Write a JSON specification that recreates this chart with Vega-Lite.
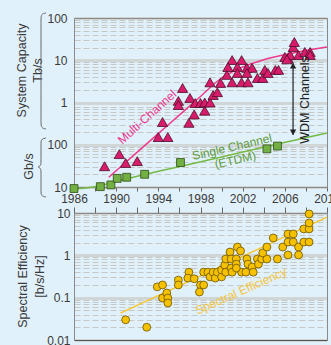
{
  "$schema": "https://vega.github.io/schema/vega-lite/v6.json",
  "width": 253,
  "height": 322,
  "autosize": {"type": "none"},
  "padding": {"left": 74, "top": 18, "right": 4, "bottom": 5},
  "background": "#e1f1fb",
  "config": {
    "view": {"stroke": null},
    "font": "Liberation Sans",
    "axis": {
      "labelFont": "Liberation Sans",
      "titleFont": "Liberation Sans",
      "labelColor": "#3a3a3a",
      "titleColor": "#3a3a3a",
      "titleFontWeight": "normal",
      "labelFontSize": 12,
      "titleFontSize": 12.5,
      "domainColor": "#8a8a8a",
      "tickColor": "#666666"
    }
  },
  "datasets": {
    "multi": [
      {"year": 1988.9, "value": 0.031}, {"year": 1990.3, "value": 0.06}, {"year": 1990.9, "value": 0.037}, {"year": 1992.0, "value": 0.041},
      {"year": 1994.0, "value": 0.152}, {"year": 1994.4, "value": 0.345}, {"year": 1994.9, "value": 0.152},
      {"year": 1995.9, "value": 1.09}, {"year": 1995.9, "value": 0.87}, {"year": 1996.3, "value": 2.2}, {"year": 1997.0, "value": 1.28},
      {"year": 1997.5, "value": 0.97}, {"year": 1996.9, "value": 0.33}, {"year": 1997.4, "value": 0.52}, {"year": 1998.0, "value": 0.97},
      {"year": 1998.4, "value": 0.64}, {"year": 1998.4, "value": 1.0}, {"year": 1998.9, "value": 1.0}, {"year": 1999.2, "value": 1.5},
      {"year": 1999.6, "value": 1.75}, {"year": 1998.9, "value": 3.0}, {"year": 1999.9, "value": 2.9},
      {"year": 2001.0, "value": 10.1}, {"year": 2001.9, "value": 10.1}, {"year": 2000.6, "value": 6.9}, {"year": 2001.5, "value": 6.9},
      {"year": 2000.5, "value": 4.5}, {"year": 2001.0, "value": 3.0}, {"year": 2001.5, "value": 5.0}, {"year": 2001.9, "value": 3.0},
      {"year": 2002.5, "value": 3.0}, {"year": 2002.4, "value": 6.6}, {"year": 2002.9, "value": 6.6}, {"year": 2002.4, "value": 5.0},
      {"year": 2003.4, "value": 3.8}, {"year": 2003.9, "value": 3.8}, {"year": 2004.1, "value": 5.9}, {"year": 2004.4, "value": 5.0},
      {"year": 2005.1, "value": 5.9}, {"year": 2005.4, "value": 5.9},
      {"year": 2006.0, "value": 11.9}, {"year": 2006.3, "value": 11.3}, {"year": 2006.5, "value": 13.3}, {"year": 2006.8, "value": 20.6},
      {"year": 2006.9, "value": 27}, {"year": 2007.3, "value": 13.3}, {"year": 2007.9, "value": 15.7}, {"year": 2008.4, "value": 15.7},
      {"year": 2008.4, "value": 13.3}, {"year": 2006.2, "value": 10.5}
    ],
    "multiLine": [
      {"year": 1989.3, "value": 0.017}, {"year": 1992, "value": 0.067}, {"year": 1995, "value": 0.305}, {"year": 1998, "value": 1.39},
      {"year": 2000, "value": 3.8}, {"year": 2001, "value": 5.3}, {"year": 2002, "value": 6.9}, {"year": 2004, "value": 10.3},
      {"year": 2006, "value": 13.5}, {"year": 2008, "value": 17}, {"year": 2010, "value": 20.5}
    ],
    "single": [
      {"year": 1986.0, "value": 0.0092}, {"year": 1988.5, "value": 0.0102}, {"year": 1989.5, "value": 0.0112}, {"year": 1990.1, "value": 0.016},
      {"year": 1991.0, "value": 0.017}, {"year": 1992.7, "value": 0.02}, {"year": 1996.1, "value": 0.038}, {"year": 2004.3, "value": 0.08},
      {"year": 2005.3, "value": 0.093}
    ],
    "singleLine": [
      {"year": 1986, "value": 0.009}, {"year": 1988, "value": 0.0102}, {"year": 1990, "value": 0.0135}, {"year": 1992, "value": 0.018},
      {"year": 1994, "value": 0.0235}, {"year": 1997, "value": 0.0346}, {"year": 2000, "value": 0.0515}, {"year": 2005, "value": 0.1},
      {"year": 2010, "value": 0.19}
    ],
    "se": [
      {"year": 1990.9, "value": 0.03}, {"year": 1992.9, "value": 0.02}, {"year": 1993.9, "value": 0.18}, {"year": 1994.4, "value": 0.2},
      {"year": 1994.4, "value": 0.098}, {"year": 1994.8, "value": 0.129}, {"year": 1994.9, "value": 0.098}, {"year": 1994.9, "value": 0.075},
      {"year": 1995.9, "value": 0.26}, {"year": 1995.9, "value": 0.2}, {"year": 1996.9, "value": 0.4}, {"year": 1996.8, "value": 0.29},
      {"year": 1997.4, "value": 0.28}, {"year": 1998.0, "value": 0.2}, {"year": 1997.9, "value": 0.136}, {"year": 1998.3, "value": 0.2},
      {"year": 1998.3, "value": 0.4}, {"year": 1998.7, "value": 0.4}, {"year": 1998.9, "value": 0.31}, {"year": 1999.2, "value": 0.4},
      {"year": 1999.4, "value": 0.29}, {"year": 1999.6, "value": 0.4}, {"year": 2000.0, "value": 0.31}, {"year": 2000.0, "value": 0.45},
      {"year": 2000.3, "value": 0.59}, {"year": 2000.4, "value": 0.82}, {"year": 2000.8, "value": 1.2}, {"year": 2000.4, "value": 0.4},
      {"year": 2000.9, "value": 0.5}, {"year": 2001.0, "value": 0.4}, {"year": 2000.9, "value": 0.82}, {"year": 2001.4, "value": 0.82},
      {"year": 2001.4, "value": 0.62}, {"year": 2001.5, "value": 1.57}, {"year": 2001.8, "value": 1.27}, {"year": 2001.9, "value": 0.4},
      {"year": 2001.4, "value": 0.5}, {"year": 2002.3, "value": 0.4}, {"year": 2002.4, "value": 0.82}, {"year": 2002.5, "value": 0.62},
      {"year": 2002.9, "value": 0.53}, {"year": 2003.0, "value": 0.4}, {"year": 2003.4, "value": 0.82}, {"year": 2003.5, "value": 0.62},
      {"year": 2003.8, "value": 0.82}, {"year": 2004.3, "value": 0.82}, {"year": 2003.9, "value": 1.14}, {"year": 2004.3, "value": 1.57},
      {"year": 2004.9, "value": 2.57}, {"year": 2005.3, "value": 0.82}, {"year": 2005.8, "value": 1.57}, {"year": 2006.3, "value": 2.06},
      {"year": 2006.3, "value": 3.2}, {"year": 2006.8, "value": 3.2}, {"year": 2006.3, "value": 1.02}, {"year": 2006.8, "value": 2.06},
      {"year": 2007.3, "value": 1.57}, {"year": 2007.3, "value": 1.02}, {"year": 2007.8, "value": 2.06}, {"year": 2007.8, "value": 4.2},
      {"year": 2008.3, "value": 2.06}, {"year": 2008.3, "value": 4.2}, {"year": 2008.3, "value": 5.8}, {"year": 2008.3, "value": 9.5}
    ],
    "seLine": [
      {"year": 1990.4, "value": 0.043}, {"year": 2010, "value": 8.0}
    ],
    "braces": [
      {"brace": "Tb", "i": 0, "year": 1983.34, "value": 131.3},
      {"brace": "Tb", "i": 1, "year": 1982.87, "value": 124.4},
      {"brace": "Tb", "i": 2, "year": 1982.87, "value": 89.7},
      {"brace": "Tb", "i": 3, "year": 1982.87, "value": 8.15},
      {"brace": "Tb", "i": 4, "year": 1982.87, "value": 6.21},
      {"brace": "Tb", "i": 5, "year": 1982.45, "value": 5.88},
      {"brace": "Tb", "i": 6, "year": 1982.87, "value": 5.57},
      {"brace": "Tb", "i": 7, "year": 1982.87, "value": 4.24},
      {"brace": "Tb", "i": 8, "year": 1982.87, "value": 0.345},
      {"brace": "Tb", "i": 9, "year": 1982.87, "value": 0.249},
      {"brace": "Tb", "i": 10, "year": 1983.34, "value": 0.236},
      {"brace": "Gb", "i": 0, "year": 1983.34, "value": 0.1445},
      {"brace": "Gb", "i": 1, "year": 1982.87, "value": 0.1368},
      {"brace": "Gb", "i": 2, "year": 1982.87, "value": 0.1042},
      {"brace": "Gb", "i": 3, "year": 1982.87, "value": 0.0391},
      {"brace": "Gb", "i": 4, "year": 1982.87, "value": 0.0314},
      {"brace": "Gb", "i": 5, "year": 1982.45, "value": 0.0297},
      {"brace": "Gb", "i": 6, "year": 1982.87, "value": 0.0282},
      {"brace": "Gb", "i": 7, "year": 1982.87, "value": 0.0226},
      {"brace": "Gb", "i": 8, "year": 1982.87, "value": 0.00804},
      {"brace": "Gb", "i": 9, "year": 1982.87, "value": 0.00612},
      {"brace": "Gb", "i": 10, "year": 1983.34, "value": 0.0058}
    ]
  },
  "layer": [
    {
      "data": {"name": "multiLine"},
      "mark": {"type": "line", "color": "#ee3a8c", "strokeWidth": 1.5, "interpolate": "monotone"},
      "encoding": {
        "x": {"field": "year", "type": "quantitative", "scale": {"domain": [1986, 2010], "nice": false, "zero": false},
          "axis": {"orient": "bottom", "offset": -153, "values": [1986, 1988, 1990, 1992, 1994, 1996, 1998, 2000, 2002, 2004, 2006, 2008, 2010],
            "labelExpr": "datum.value % 4 == 2 ? '' + datum.value : ''", "labelOverlap": false, "labelFlush": false,
            "tickSize": 4, "labelPadding": 2, "grid": false, "title": null}},
        "y": {"field": "value", "type": "quantitative", "scale": {"type": "log", "domain": [0.01, 100], "range": [169, 0], "nice": false},
          "axis": {"orient": "left",
            "values": [0.01, 0.02, 0.03, 0.04, 0.05, 0.06, 0.07, 0.08, 0.09, 0.1, 0.2, 0.3, 0.4, 0.5, 0.6, 0.7, 0.8, 0.9, 1, 2, 3, 4, 5, 6, 7, 8, 9, 10, 20, 30, 40, 50, 60, 70, 80, 90, 100],
            "labelExpr": "abs(log(datum.value)/LN10 - round(log(datum.value)/LN10)) < 0.001 ? (datum.value >= 1 ? '' + round(datum.value) : '' + round(datum.value * 1000)) : ''",
            "labelOverlap": false, "ticks": false, "tickSize": 0, "labelPadding": 7,
            "grid": true,
            "gridColor": {"condition": {"test": "abs(log(datum.value)/LN10 - round(log(datum.value)/LN10)) < 0.001", "value": "#d0d5d5"}, "value": "#c5c8c4"},
            "gridDash": {"condition": {"test": "abs(log(datum.value)/LN10 - round(log(datum.value)/LN10)) < 0.001", "value": []}, "value": [6, 3]},
            "gridWidth": {"condition": {"test": "abs(log(datum.value)/LN10 - round(log(datum.value)/LN10)) < 0.001", "value": 3}, "value": 1},
            "title": ["System Capacity", "Tb/s"], "titleX": -53, "titleY": 52, "titleBaseline": "middle", "titleAlign": "center", "titleAngle": -90, "titleLineHeight": 16}}
      }
    },
    {
      "data": {"name": "singleLine"},
      "mark": {"type": "line", "color": "#74bb45", "strokeWidth": 1.5, "interpolate": "monotone"},
      "encoding": {
        "x": {"field": "year", "type": "quantitative", "scale": {"domain": [1986, 2010], "nice": false, "zero": false}, "axis": null},
        "y": {"field": "value", "type": "quantitative", "scale": {"type": "log", "domain": [0.01, 100], "range": [169, 0], "nice": false}, "axis": null}
      }
    },
    {
      "data": {"name": "braces"},
      "mark": {"type": "line", "color": "#666666", "strokeWidth": 1, "interpolate": "basis"},
      "encoding": {
        "x": {"field": "year", "type": "quantitative", "scale": {"domain": [1986, 2010], "nice": false, "zero": false},
          "axis": {"orient": "top", "labels": false, "ticks": false, "grid": false, "title": null}},
        "y": {"field": "value", "type": "quantitative", "scale": {"type": "log", "domain": [0.01, 100], "range": [169, 0], "nice": false},
          "axis": {"orient": "left", "labels": false, "ticks": false, "grid": false, "domain": false,
            "title": "Gb/s", "titleX": -46, "titleY": 148, "titleBaseline": "middle", "titleAlign": "center", "titleAngle": -90}},
        "detail": {"field": "brace"},
        "order": {"field": "i", "type": "quantitative"}
      }
    },
    {
      "data": {"values": [{"year": 2006.78, "value": 8.6, "value2": 0.17}]},
      "mark": {"type": "rule", "color": "#222222", "strokeWidth": 1.2},
      "encoding": {
        "x": {"field": "year", "type": "quantitative", "scale": {"domain": [1986, 2010], "nice": false, "zero": false}, "axis": null},
        "y": {"field": "value", "type": "quantitative", "scale": {"type": "log", "domain": [0.01, 100], "range": [169, 0], "nice": false}, "axis": null},
        "y2": {"field": "value2"}
      }
    },
    {
      "data": {"values": [{"year": 2006.78, "value": 7.4}]},
      "mark": {"type": "point", "shape": "triangle-up", "filled": true, "fill": "#222222", "stroke": null, "size": 40, "opacity": 1},
      "encoding": {
        "x": {"field": "year", "type": "quantitative", "scale": {"domain": [1986, 2010], "nice": false, "zero": false}, "axis": null},
        "y": {"field": "value", "type": "quantitative", "scale": {"type": "log", "domain": [0.01, 100], "range": [169, 0], "nice": false}, "axis": null}
      }
    },
    {
      "data": {"values": [{"year": 2006.78, "value": 0.198}]},
      "mark": {"type": "point", "shape": "triangle-down", "filled": true, "fill": "#222222", "stroke": null, "size": 40, "opacity": 1},
      "encoding": {
        "x": {"field": "year", "type": "quantitative", "scale": {"domain": [1986, 2010], "nice": false, "zero": false}, "axis": null},
        "y": {"field": "value", "type": "quantitative", "scale": {"type": "log", "domain": [0.01, 100], "range": [169, 0], "nice": false}, "axis": null}
      }
    },
    {
      "data": {"name": "multi"},
      "mark": {"type": "point", "shape": "triangle-up", "filled": true, "fill": "#d81b6a", "stroke": "#4a0f2a", "strokeWidth": 0.8, "size": 105, "opacity": 1},
      "encoding": {
        "x": {"field": "year", "type": "quantitative", "scale": {"domain": [1986, 2010], "nice": false, "zero": false}, "axis": null},
        "y": {"field": "value", "type": "quantitative", "scale": {"type": "log", "domain": [0.01, 100], "range": [169, 0], "nice": false}, "axis": null}
      }
    },
    {
      "data": {"name": "single"},
      "mark": {"type": "point", "shape": "square", "filled": true, "fill": "#72b043", "stroke": "#2d4d14", "strokeWidth": 0.8, "size": 62, "opacity": 1},
      "encoding": {
        "x": {"field": "year", "type": "quantitative", "scale": {"domain": [1986, 2010], "nice": false, "zero": false}, "axis": null},
        "y": {"field": "value", "type": "quantitative", "scale": {"type": "log", "domain": [0.01, 100], "range": [169, 0], "nice": false}, "axis": null}
      }
    },
    {
      "data": {"values": [{"year": 1992.93, "value": 0.454, "label": "Multi-Channel"}]},
      "mark": {"type": "text", "angle": -42, "align": "center", "baseline": "middle", "fontSize": 12, "color": "#e8368c"},
      "encoding": {
        "x": {"field": "year", "type": "quantitative", "scale": {"domain": [1986, 2010], "nice": false, "zero": false}, "axis": null},
        "y": {"field": "value", "type": "quantitative", "scale": {"type": "log", "domain": [0.01, 100], "range": [169, 0], "nice": false}, "axis": null},
        "text": {"field": "label"}
      }
    },
    {
      "data": {"values": [{"year": 2001.0, "value": 0.0885, "label": "Single Channel"}]},
      "mark": {"type": "text", "angle": -13, "align": "center", "baseline": "middle", "fontSize": 12, "color": "#5e9a3c"},
      "encoding": {
        "x": {"field": "year", "type": "quantitative", "scale": {"domain": [1986, 2010], "nice": false, "zero": false}, "axis": null},
        "y": {"field": "value", "type": "quantitative", "scale": {"type": "log", "domain": [0.01, 100], "range": [169, 0], "nice": false}, "axis": null},
        "text": {"field": "label"}
      }
    },
    {
      "data": {"values": [{"year": 2001.3, "value": 0.0436, "label": "(ETDM)"}]},
      "mark": {"type": "text", "angle": -13, "align": "center", "baseline": "middle", "fontSize": 12, "color": "#5e9a3c"},
      "encoding": {
        "x": {"field": "year", "type": "quantitative", "scale": {"domain": [1986, 2010], "nice": false, "zero": false}, "axis": null},
        "y": {"field": "value", "type": "quantitative", "scale": {"type": "log", "domain": [0.01, 100], "range": [169, 0], "nice": false}, "axis": null},
        "text": {"field": "label"}
      }
    },
    {
      "data": {"values": [{"year": 2007.9, "value": 1.15, "label": "WDM Channels"}]},
      "mark": {"type": "text", "angle": -90, "align": "center", "baseline": "middle", "fontSize": 12.5, "color": "#222222"},
      "encoding": {
        "x": {"field": "year", "type": "quantitative", "scale": {"domain": [1986, 2010], "nice": false, "zero": false}, "axis": null},
        "y": {"field": "value", "type": "quantitative", "scale": {"type": "log", "domain": [0.01, 100], "range": [169, 0], "nice": false},
          "axis": {"orient": "right", "labels": false, "ticks": false, "grid": false, "title": null}},
        "text": {"field": "label"}
      }
    },
    {
      "data": {"name": "seLine"},
      "mark": {"type": "line", "color": "#f7c52c", "strokeWidth": 1.5},
      "encoding": {
        "x": {"field": "year", "type": "quantitative", "scale": {"domain": [1986, 2010], "nice": false, "zero": false},
          "axis": {"orient": "bottom", "labels": false, "ticks": false, "grid": false, "title": null, "domainColor": "#555555"}},
        "y": {"field": "value", "type": "quantitative", "scale": {"type": "log", "domain": [0.01, 10], "range": [322, 195], "nice": false},
          "axis": {"orient": "left",
            "values": [0.01, 0.02, 0.03, 0.04, 0.05, 0.06, 0.07, 0.08, 0.09, 0.1, 0.2, 0.3, 0.4, 0.5, 0.6, 0.7, 0.8, 0.9, 1, 2, 3, 4, 5, 6, 7, 8, 9, 10],
            "labelExpr": "abs(log(datum.value)/LN10 - round(log(datum.value)/LN10)) < 0.001 ? (datum.value >= 1 ? '' + round(datum.value) : (datum.value > 0.05 ? '0.1' : '0.01')) : ''",
            "labelOverlap": false, "ticks": false, "tickSize": 0, "labelPadding": 4,
            "grid": true,
            "gridColor": {"condition": {"test": "abs(log(datum.value)/LN10 - round(log(datum.value)/LN10)) < 0.001", "value": "#d0d5d5"}, "value": "#c5c8c4"},
            "gridDash": {"condition": {"test": "abs(log(datum.value)/LN10 - round(log(datum.value)/LN10)) < 0.001", "value": []}, "value": [6, 3]},
            "gridWidth": {"condition": {"test": "abs(log(datum.value)/LN10 - round(log(datum.value)/LN10)) < 0.001", "value": 3}, "value": 1},
            "title": ["Spectral Efficiency", "[b/s/Hz]"], "titleX": -52, "titleY": 258, "titleBaseline": "middle", "titleAlign": "center", "titleAngle": -90, "titleLineHeight": 17}}
      }
    },
    {
      "data": {"name": "se"},
      "mark": {"type": "point", "shape": "circle", "filled": true, "fill": "#f6c200", "stroke": "#6b5300", "strokeWidth": 0.8, "size": 62, "opacity": 1},
      "encoding": {
        "x": {"field": "year", "type": "quantitative", "scale": {"domain": [1986, 2010], "nice": false, "zero": false},
          "axis": {"orient": "top", "offset": -195, "values": [1986, 1988, 1990, 1992, 1994, 1996, 1998, 2000, 2002, 2004, 2006, 2008, 2010],
            "labels": false, "tickSize": 6, "grid": false, "title": null}},
        "y": {"field": "value", "type": "quantitative", "scale": {"type": "log", "domain": [0.01, 10], "range": [322, 195], "nice": false},
          "axis": {"orient": "right", "labels": false, "ticks": false, "grid": false, "title": null}}
      }
    },
    {
      "data": {"values": [{"year": 2001.85, "value": 0.1435, "label": "Spectral Efficiency"}]},
      "mark": {"type": "text", "angle": -24, "align": "center", "baseline": "middle", "fontSize": 12, "color": "#f5c43a"},
      "encoding": {
        "x": {"field": "year", "type": "quantitative", "scale": {"domain": [1986, 2010], "nice": false, "zero": false}, "axis": null},
        "y": {"field": "value", "type": "quantitative", "scale": {"type": "log", "domain": [0.01, 10], "range": [322, 195], "nice": false}, "axis": null},
        "text": {"field": "label"}
      }
    }
  ],
  "resolve": {"scale": {"y": "independent"}, "axis": {"x": "independent", "y": "independent"}}
}
